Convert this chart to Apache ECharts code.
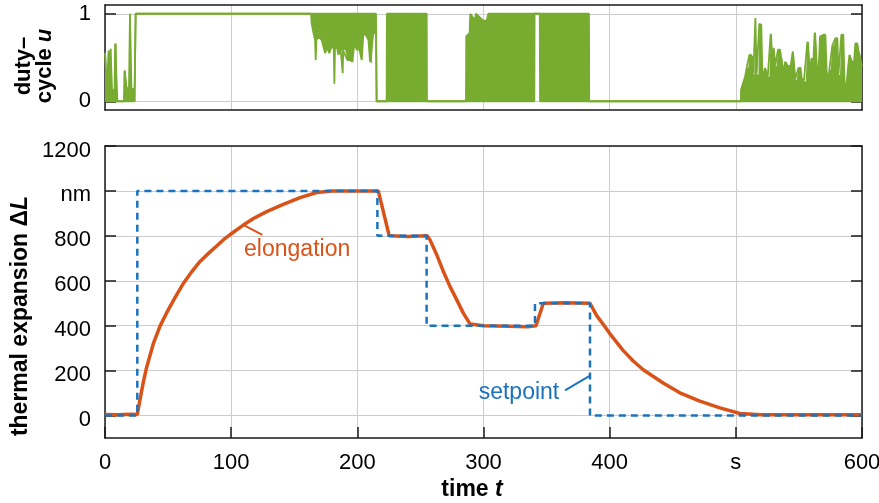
<!DOCTYPE html>
<html><head><meta charset="utf-8">
<script src="https://cdn.jsdelivr.net/npm/echarts@6/dist/echarts.min.js"></script>
<style>html,body{margin:0;padding:0;background:#fff}#c{width:879px;height:503px}</style>
</head><body><div id="c"></div>
<script>
// ---------- tick labels ----------
const xTicks = [0, 100, 200, 300, 400, 500, 600];
const xTickLabels = ['0', '100', '200', '300', '400', 's', '600'];
const yTicks = [0, 200, 400, 600, 800, 1000, 1200];
const yTickLabels = ['0', '200', '400', '600', '800', 'nm', '1200'];
const uTicks = [0, 1];
const uTickLabels = ['0', '1'];

// ---------- setpoint (step, value held from each time) ----------
const spTime  = [0, 25.6, 215.9, 254.9, 340.8, 384.4, 600];
const spValue = [0, 1000, 800, 400, 500, 0, 0];

// ---------- elongation ----------
const elTime  = [0, 10, 20, 25.6, 27.7, 30.4, 33, 38.3, 43.6, 48.9, 55.5, 62.1, 68.7, 75.3, 82, 88.5, 95, 101.7, 109.6, 118, 128.1, 141.3, 154.6, 167.8, 180, 200, 216.6, 225.3, 240, 255.5, 257.6, 262.9, 268.2, 273.4, 278.7, 284, 289.3, 300, 320, 335, 341.6, 347.4, 365, 384.4, 389.7, 395, 400.1, 410.6, 418.7, 426.6, 442.4, 455.6, 471.5, 487.4, 503.2, 520, 560, 600];
const elValue = [5, 3, 6, 5, 70, 150, 215, 320, 398, 458, 525, 588, 640, 686, 722, 755, 788, 816, 848, 878, 908, 940, 970, 993, 1000, 1000, 1000, 800, 797, 800, 782, 716, 641, 575, 516, 456, 408, 400, 398, 395, 400, 500, 502, 500, 445, 405, 365, 290, 243, 204, 145, 101, 64, 34, 9, 3, 4, 3];

// ---------- duty cycle u: rows [time s, lower envelope, upper envelope] of the fast PWM signal ----------
const uSegStart = [[0, 0, 0.55], [0.8, 0, 0.57], [1.6, 0, 0.13], [2.2, 0, 0.13], [2.8, 0, 0.58], [3.4, 0, 0.58], [4.0, 0, 0.2], [4.4, 0, 0.6], [5.0, 0, 0.6], [5.6, 0, 0.13], [7.6, 0, 0.13], [8.0, 0, 0.66], [9.2, 0, 0.66], [9.8, 0, 0], [15.0, 0, 0], [15.4, 0, 0.35], [16.6, 0, 0.35], [17.2, 0, 0.15], [19.0, 0, 0.15], [19.8, 0, 1], [20.4, 0, 1], [21.0, 0, 0.1], [21.6, 0, 0.02], [22.4, 0, 0.15], [23.4, 0, 0.02], [24.3, 0, 0.02]];
const uSegFull = [[24.3, 1, 1], [163.3, 1, 1]];
const uSegOsc = [[163.8, 0.89, 1], [165.2, 0.78, 1], [166.5, 0.70, 1], [167.0, 0.47, 1], [167.6, 0.70, 1], [169.1, 0.74, 1], [171.8, 0.70, 1], [174.4, 0.55, 1], [176.3, 0.61, 1], [177.8, 0.55, 1], [179.7, 0.63, 1], [181.3, 0.60, 1], [181.8, 0.20, 1], [182.3, 0.60, 1], [183.7, 0.63, 1], [185.0, 0.53, 1], [186.8, 0.59, 1], [188.0, 0.58, 1], [188.4, 0.32, 1], [188.8, 0.58, 1], [190.3, 0.59, 1], [192.1, 0.47, 1], [194.2, 0.47, 1], [196.1, 0.45, 1], [197.7, 0.67, 1], [199.5, 0.59, 1], [201.6, 0.59, 1], [203.5, 0.47, 1], [204.8, 0.78, 1], [207.4, 0.74, 1], [208.8, 0.70, 1], [210.1, 0.45, 1], [211.4, 0.43, 1], [212.7, 0.78, 1], [214.8, 0.78, 1]];
const uSegBlocks = [[215.3, 0, 0], [223.2, 0, 0], [223.4, 0, 1], [255.0, 0, 1], [255.2, 0, 0], [286.1, 0, 0], [286.3, 0, 0.74], [289.0, 0, 0.78], [289.5, 0, 1], [291.9, 0, 0.95], [293.5, 0, 0.95], [294.0, 0, 1], [299.8, 0, 0.92], [302.5, 0, 0.92], [303.8, 0, 1], [340.3, 0, 1], [340.5, 1, 1], [344.6, 1, 1], [344.8, 0, 1], [383.6, 0, 1], [383.8, 0, 0], [504.0, 0, 0]];
const uSegEnd = [[504.1, 0, 0.13], [506.0, 0, 0.22], [507.3, 0, 0.28], [508.6, 0, 0.38], [509.9, 0, 0.38], [510.7, 0, 0.53], [512.0, 0, 0.55], [513.1, 0, 0.51], [513.9, 0, 0.32], [514.7, 0, 0.30], [515.5, 0, 0.95], [516.5, 0, 0.32], [517.9, 0, 0.30], [518.6, 0, 0.885], [520.2, 0, 0.874], [521.0, 0, 0.32], [521.8, 0, 0.29], [523.1, 0, 0.38], [524.5, 0, 0.36], [525.3, 0, 0.28], [526.6, 0, 0.28], [527.6, 0, 0.77], [528.7, 0, 0.76], [529.2, 0, 0.41], [530.0, 0, 0.61], [531.3, 0, 0.41], [532.4, 0, 0.40], [533.4, 0, 0.59], [535.0, 0, 0.59], [536.1, 0, 0.49], [536.9, 0, 0.49], [537.7, 0, 0.32], [539.0, 0, 0.45], [540.3, 0, 0.45], [541.4, 0, 0.40], [542.4, 0, 0.40], [543.5, 0, 0.41], [545.1, 0, 0.57], [546.1, 0, 0.55], [547.2, 0, 0.26], [548.2, 0, 0.24], [549.6, 0, 0.38], [551.4, 0, 0.38], [552.2, 0, 0.26], [554.0, 0, 0.24], [555.4, 0, 0.22], [556.7, 0, 0.68], [558.0, 0, 0.68], [558.8, 0, 0.34], [559.9, 0, 0.49], [561.5, 0, 0.47], [562.5, 0, 0.785], [563.6, 0, 0.78], [564.6, 0, 0.34], [565.7, 0, 0.38], [566.7, 0, 0.74], [568.1, 0, 0.74], [569.4, 0, 0.76], [571.0, 0, 0.76], [572.0, 0, 0.34], [573.1, 0, 0.22], [574.1, 0, 0.36], [575.2, 0, 0.36], [576.5, 0, 0.64], [577.8, 0, 0.64], [578.9, 0, 0.72], [580.5, 0, 0.72], [581.3, 0, 0.30], [582.6, 0, 0.30], [583.6, 0, 0.76], [585.2, 0, 0.76], [586.3, 0, 0.15], [587.9, 0, 0.22], [588.9, 0, 0.38], [590.0, 0, 0.53], [591.0, 0, 0.53], [592.1, 0, 0.45], [593.7, 0, 0.45], [594.7, 0, 0.66], [596.3, 0, 0.66], [597.4, 0, 0.56], [598.4, 0, 0.56], [600, 0, 0.40]];

// ---------- annotation anchors (data coordinates) ----------
const elongLeader = [[109.6, 849], [124.7, 804]];
const elongText = [152.3, 738];
const spLeader = [[364.6, 112], [384.4, 178]];
const spText = [328.1, 102];

// ---------- styling ----------
const GREEN = '#77AC30', ORANGE = '#D95319', BLUE = '#1B72BE', GRIDC = '#cccccc', AX = '#1a1a1a';
const FONT = '"Liberation Sans", Arial, Helvetica, sans-serif';

const uSegments = [uSegStart, uSegFull, uSegOsc, uSegBlocks, uSegEnd];
const uRows = [].concat(...uSegments);
const zip = (a, b) => a.map((v, i) => [v, b[i]]);
const fmt = (ticks, labels) => v => { const i = ticks.findIndex(t => Math.abs(t - v) < 1e-6); return i >= 0 ? labels[i] : ''; };

const axLine = { show: true, onZero: false, lineStyle: { color: AX, width: 1.5 } };
const split = { show: true, lineStyle: { color: GRIDC, width: 1 } };
const tickIn = (cv) => ({ show: true, inside: true, length: 11, lineStyle: { color: AX, width: 1.5 }, customValues: cv });
const richT = (size, lh) => ({
  b: { fontFamily: FONT, fontWeight: 'bold', fontSize: size, fill: '#000', lineHeight: lh },
  bi: { fontFamily: FONT, fontWeight: 'bold', fontStyle: 'italic', fontSize: size, fill: '#000', lineHeight: lh }
});
const labelStyle = { fontFamily: FONT, fontSize: 22, color: '#000' };
const xBase = { type: 'value', min: 0, max: 600, interval: 100 };

const option = {
  animation: false,
  backgroundColor: '#fff',
  grid: [
    { left: 105, right: 17, top: 5, height: 105, outerBoundsMode: 'none', containLabel: false },
    { left: 105, right: 17, top: 146, height: 292, outerBoundsMode: 'none', containLabel: false }
  ],
  graphic: [
    { type: 'text', x: 34, y: 66, rotation: Math.PI / 2, z: 100,
      style: { text: '{b|duty–}\n{b|cycle }{bi|u}', rich: richT(22, 21), align: 'center', verticalAlign: 'middle' } },
    { type: 'text', x: 21, y: 316, rotation: Math.PI / 2, z: 100,
      style: { text: '{b|thermal expansion Δ}{bi|L}', rich: richT(23, 24), align: 'center', verticalAlign: 'middle' } },
    { type: 'text', x: 472, y: 490, z: 100,
      style: { text: '{b|time }{bi|t}', rich: richT(23, 24), align: 'center', verticalAlign: 'middle' } }
  ],
  xAxis: [
    Object.assign({}, xBase, { gridIndex: 0, position: 'bottom', axisLine: axLine, axisTick: { show: false }, axisLabel: { show: false }, splitLine: split }),
    Object.assign({}, xBase, { gridIndex: 0, position: 'top', axisLine: axLine, axisTick: { show: false }, axisLabel: { show: false }, splitLine: { show: false } }),
    Object.assign({}, xBase, { gridIndex: 1, position: 'bottom', axisLine: axLine,
      axisTick: { show: true, inside: true, length: 11, lineStyle: { color: AX, width: 1.5 } },
      axisLabel: Object.assign({ show: true, margin: 14, formatter: fmt(xTicks, xTickLabels) }, labelStyle),
      splitLine: split }),
    Object.assign({}, xBase, { gridIndex: 1, position: 'top', axisLine: axLine, axisTick: { show: false }, axisLabel: { show: false }, splitLine: { show: false } })
  ],
  yAxis: [
    { type: 'value', gridIndex: 0, position: 'left', min: -0.1, max: 1.1, axisLine: axLine, axisTick: tickIn(uTicks),
      axisLabel: Object.assign({ show: true, margin: 14, customValues: uTicks, formatter: fmt(uTicks, uTickLabels) }, labelStyle),
      splitLine: split },
    { type: 'value', gridIndex: 0, position: 'right', min: -0.1, max: 1.1, axisLine: axLine, axisTick: tickIn(uTicks), axisLabel: { show: false }, splitLine: { show: false } },
    { type: 'value', gridIndex: 1, position: 'left', min: -100, max: 1200, axisLine: axLine, axisTick: tickIn(yTicks),
      axisLabel: Object.assign({ show: true, margin: 14, verticalAlign: 'top', lineHeight: 9, customValues: yTicks, formatter: fmt(yTicks, yTickLabels) }, labelStyle),
      splitLine: split },
    { type: 'value', gridIndex: 1, position: 'right', min: -100, max: 1200, axisLine: axLine, axisTick: tickIn(yTicks), axisLabel: { show: false }, splitLine: { show: false } }
  ],
  series: [
    { name: 'u band', type: 'custom', xAxisIndex: 0, yAxisIndex: 0, silent: true, z: 2, clip: true,
      data: [[uRows[0][0], uRows[0][2]]], encode: { x: 0, y: 1 },
      renderItem: (params, api) => {
        const upper = uRows.map(r => api.coord([r[0], r[2]]));
        const lower = uRows.slice().reverse().map(r => api.coord([r[0], r[1]]));
        return { type: 'polygon', shape: { points: upper.concat(lower) }, style: { fill: GREEN } };
      } },
    { name: 'u low', type: 'line', xAxisIndex: 0, yAxisIndex: 0, data: uRows.map(r => [r[0], r[1]]),
      symbol: 'none', lineStyle: { color: GREEN, width: 1.8 }, z: 3 },
    { name: 'duty-cycle u', type: 'line', xAxisIndex: 0, yAxisIndex: 0, data: uRows.map(r => [r[0], r[2]]),
      symbol: 'none', lineStyle: { color: GREEN, width: 1.8 }, z: 3 },
    { name: 'elongation', type: 'line', xAxisIndex: 2, yAxisIndex: 2, data: zip(elTime, elValue), symbol: 'none',
      lineStyle: { color: ORANGE, width: 3.5 }, z: 3,
      markLine: { silent: true, symbol: ['none', 'none'], label: { show: false }, lineStyle: { color: ORANGE, width: 2, type: 'solid' },
        data: [[{ coord: elongLeader[0] }, { coord: elongLeader[1] }]] },
      markPoint: { silent: true, symbol: 'circle', symbolSize: 0,
        label: { show: true, position: 'inside', formatter: 'elongation', color: ORANGE, fontSize: 23, fontFamily: FONT },
        data: [{ coord: elongText }] } },
    { name: 'setpoint', type: 'line', step: 'end', xAxisIndex: 2, yAxisIndex: 2, data: zip(spTime, spValue), symbol: 'none',
      lineStyle: { color: BLUE, width: 2.5, type: [7, 5] }, z: 4,
      markLine: { silent: true, symbol: ['none', 'none'], label: { show: false }, lineStyle: { color: BLUE, width: 2, type: 'solid' },
        data: [[{ coord: spLeader[0] }, { coord: spLeader[1] }]] },
      markPoint: { silent: true, symbol: 'circle', symbolSize: 0,
        label: { show: true, position: 'inside', formatter: 'setpoint', color: BLUE, fontSize: 23, fontFamily: FONT },
        data: [{ coord: spText }] } }
  ]
};
const chart = echarts.init(document.getElementById('c'), null, { renderer: 'canvas' });
chart.setOption(option);
</script>
</body></html>
